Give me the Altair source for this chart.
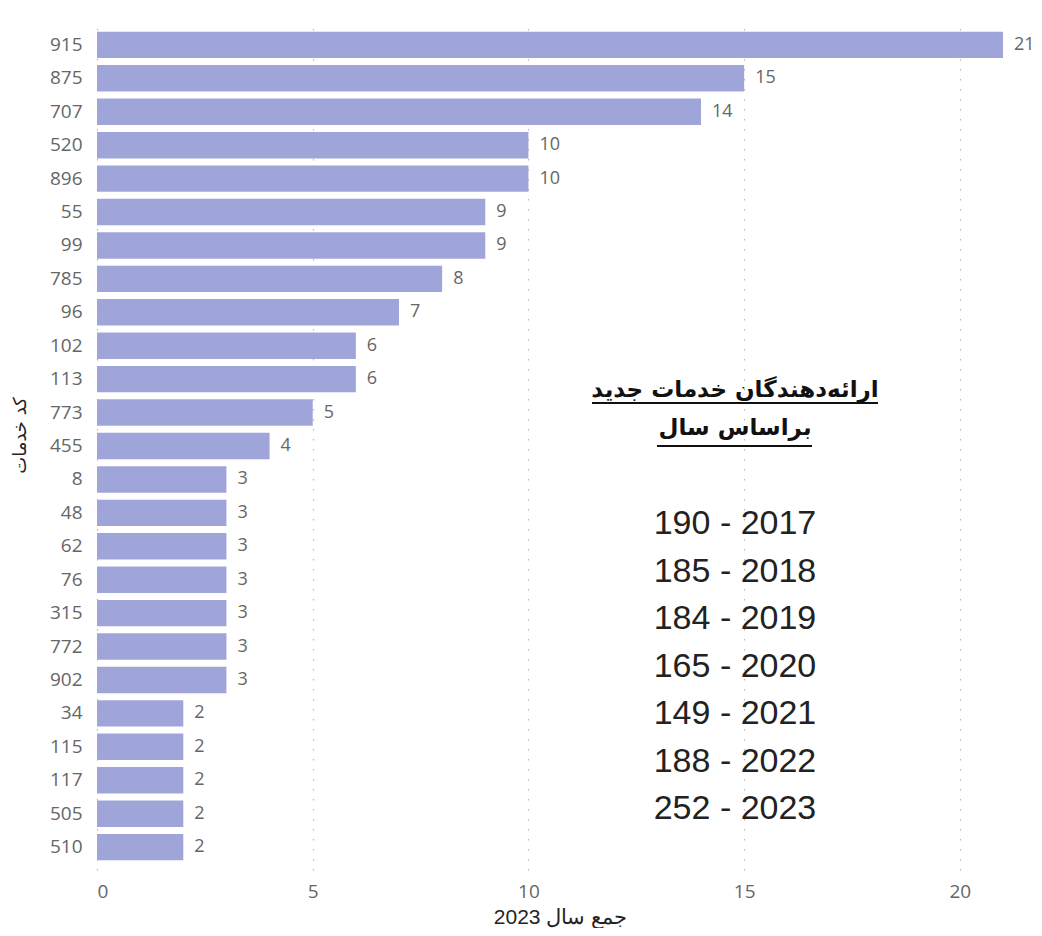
import altair as alt
import pandas as pd

codes = ["915", "875", "707", "520", "896", "55", "99", "785", "96", "102", "113",
         "773", "455", "8", "48", "62", "76", "315", "772", "902", "34", "115",
         "117", "505", "510"]
values = [21, 15, 14, 10, 10, 9, 9, 8, 7, 6, 6, 5, 4, 3, 3, 3, 3, 3, 3, 3, 2, 2, 2, 2, 2]
x_ticks = [0, 5, 10, 15, 20]

title_lines = ["ارائه\u200cدهندگان خدمات جدید", "براساس سال"]
year_lines = ["190 - 2017", "185 - 2018", "184 - 2019", "165 - 2020",
              "149 - 2021", "188 - 2022", "252 - 2023"]

x_title = "جمع سال 2023"
y_title = "کد خدمات"

df = pd.DataFrame({"code": codes, "value": values})
years_df = pd.DataFrame({"line": year_lines, "idx": list(range(len(year_lines)))})

W, H = 906, 848
BAR = "#A0A5D9"
LABEL_GRAY = "#666666"

y_enc = alt.Y("code:N", sort=codes,
              scale=alt.Scale(paddingInner=0.21, paddingOuter=0.29),
              axis=alt.Axis(title=y_title, domain=False, ticks=False, grid=False,
                            labelPadding=15, labelFont="Open Sans", labelFontSize=19,
                            labelColor=LABEL_GRAY, titleFont="DejaVu Sans",
                            titleFontSize=18, titleFontWeight="normal",
                            titleColor="#252423", titleX=-68, titleY=413))
x_enc = alt.X("value:Q", scale=alt.Scale(domain=[0, 21], nice=False, zero=True),
              axis=alt.Axis(title=x_title, values=x_ticks, domain=False, ticks=False,
                            grid=True, gridDash=[1.5, 8.5], gridColor="#b8b8b8",
                            gridWidth=1.2, labelPadding=12, labelFont="Open Sans",
                            labelFontSize=19, labelColor=LABEL_GRAY,
                            titleFont="Liberation Sans", titleFontSize=21,
                            titleFontWeight="normal", titleColor="#252423",
                            titleX=463, titleY=53, titleBaseline="alphabetic"))

bars = alt.Chart(df).mark_bar(color=BAR).encode(y=y_enc, x=x_enc)
labels = alt.Chart(df).mark_text(align="left", baseline="middle", dx=11,
                                 font="Open Sans", fontSize=18,
                                 color=LABEL_GRAY).encode(
    y=alt.Y("code:N", sort=codes), x="value:Q", text="value:Q")
base = alt.layer(bars, labels)

ann_x = 638
t1 = alt.Chart(pd.DataFrame({"t": [title_lines[0]]})).mark_text(
    font="DejaVu Sans", fontWeight="bold", fontSize=23, color="#111111",
    align="center", baseline="alphabetic").encode(
    text="t:N", x=alt.value(ann_x), y=alt.value(375))
t2 = alt.Chart(pd.DataFrame({"t": [title_lines[1]]})).mark_text(
    font="DejaVu Sans", fontWeight="bold", fontSize=23, color="#111111",
    align="center", baseline="alphabetic").encode(
    text="t:N", x=alt.value(ann_x), y=alt.value(413))
u1 = alt.Chart(pd.DataFrame({"a": [0]})).mark_rule(color="#111111", strokeWidth=2).encode(
    x=alt.value(495), x2=alt.value(781), y=alt.value(381))
u2 = alt.Chart(pd.DataFrame({"a": [0]})).mark_rule(color="#111111", strokeWidth=2).encode(
    x=alt.value(560), x2=alt.value(715), y=alt.value(424))

years = alt.Chart(years_df).mark_text(
    font="Liberation Sans", fontSize=34, color="#222222",
    align="center", baseline="middle").encode(
    text="line:N", x=alt.value(ann_x),
    y=alt.Y("idx:Q", axis=None,
            scale=alt.Scale(domain=[0, 6], range=[502, 502 + 6 * 47.5], nice=False, zero=False)))

chart = alt.layer(base, t1, t2, u1, u2, years).resolve_scale(
    y="independent").properties(
    width=W, height=H,
    background="white",
    autosize=alt.AutoSizeParams(type="none"),
    padding={"left": 89, "top": 14, "right": 31, "bottom": 58},
).configure_view(stroke=None, strokeWidth=0)

chart.save("out.html", embed_options={"renderer": "svg", "actions": False})
